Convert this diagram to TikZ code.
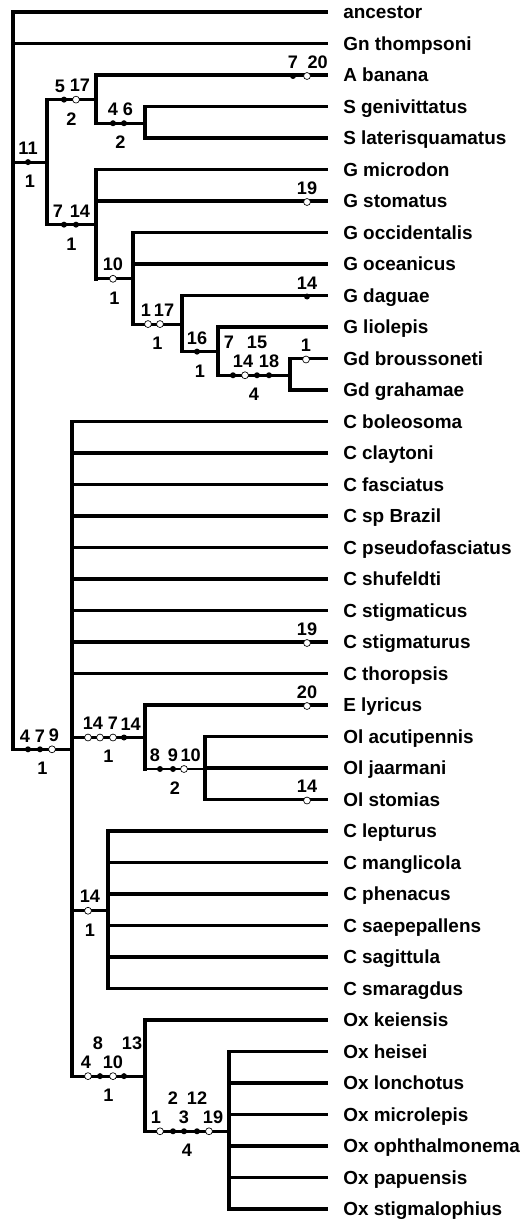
\documentclass[tikz,border=0pt]{standalone}
\usepackage{fontspec}
\setmainfont{Liberation Sans}
\usetikzlibrary{positioning}

\begin{document}
\begin{tikzpicture}[
    x=0.75pt, y=-23.625pt,
    taxon/.style={
        anchor=west,
        inner xsep=11.25pt,
        inner ysep=0pt,
        text height=10.2pt,
        text depth=0pt,
        yshift=0.75pt,
        font=\bfseries\fontsize{14.2}{17}\selectfont
    },
    leaf/.style={line width=2.9pt},
    leafthin/.style={line width=2.3pt},
    stem/.style={line width=2.2pt},
    vline/.style={line width=2.6pt, line cap=rect},
    syn/.style={circle, fill=black, inner sep=0pt, minimum size=4.5pt},
    hom/.style={circle, draw=black, fill=white, line width=0.5pt, inner sep=0pt, minimum size=5.2pt},
    num/.style={font=\bfseries\fontsize{13.6}{16}\selectfont, inner sep=0pt},
    steps/.style={num, below=8.6pt},
    hi/.style={yshift=14.3pt},
    every label/.style={num},
    label distance=2.8pt
]

\useasboundingbox (0,-0.4127) rectangle (528,38.349);

\node[taxon] (anc) at (328,0) {ancestor};
\node[taxon] (gnt) at (328,1) {Gn thompsoni};
\node[taxon] (aban) at (328,2) {A banana};
\node[taxon] (sgen) at (328,3) {S genivittatus};
\node[taxon] (slat) at (328,4) {S laterisquamatus};
\node[taxon] (gmic) at (328,5) {G microdon};
\node[taxon] (gsto) at (328,6) {G stomatus};
\node[taxon] (gocc) at (328,7) {G occidentalis};
\node[taxon] (goce) at (328,8) {G oceanicus};
\node[taxon] (gdag) at (328,9) {G daguae};
\node[taxon] (glio) at (328,10) {G liolepis};
\node[taxon] (gdbr) at (328,11) {Gd broussoneti};
\node[taxon] (gdgr) at (328,12) {Gd grahamae};
\node[taxon] (cbol) at (328,13) {C boleosoma};
\node[taxon] (ccla) at (328,14) {C claytoni};
\node[taxon] (cfas) at (328,15) {C fasciatus};
\node[taxon] (cspb) at (328,16) {C sp Brazil};
\node[taxon] (cpse) at (328,17) {C pseudofasciatus};
\node[taxon] (cshu) at (328,18) {C shufeldti};
\node[taxon] (csti) at (328,19) {C stigmaticus};
\node[taxon] (cstu) at (328,20) {C stigmaturus};
\node[taxon] (ctho) at (328,21) {C thoropsis};
\node[taxon] (elyr) at (328,22) {E lyricus};
\node[taxon] (olac) at (328,23) {Ol acutipennis};
\node[taxon] (olja) at (328,24) {Ol jaarmani};
\node[taxon] (olst) at (328,25) {Ol stomias};
\node[taxon] (clep) at (328,26) {C lepturus};
\node[taxon] (cman) at (328,27) {C manglicola};
\node[taxon] (cphe) at (328,28) {C phenacus};
\node[taxon] (csae) at (328,29) {C saepepallens};
\node[taxon] (csag) at (328,30) {C sagittula};
\node[taxon] (csma) at (328,31) {C smaragdus};
\node[taxon] (oxke) at (328,32) {Ox keiensis};
\node[taxon] (oxhe) at (328,33) {Ox heisei};
\node[taxon] (oxlo) at (328,34) {Ox lonchotus};
\node[taxon] (oxmi) at (328,35) {Ox microlepis};
\node[taxon] (oxop) at (328,36) {Ox ophthalmonema};
\node[taxon] (oxpa) at (328,37) {Ox papuensis};
\node[taxon] (oxst) at (328,38) {Ox stigmalophius};

\coordinate (root) at (13,11.69);
\coordinate (gobA) at (47,4.734);
\coordinate (abS) at (96,2.75);
\coordinate (sicy) at (145,3.5);
\coordinate (gobi) at (96,6.719);
\coordinate (gob10) at (133,8.438);
\coordinate (gob17) at (182,9.875);
\coordinate (gob16) at (218,10.75);
\coordinate (gobd) at (290,11.5);
\coordinate (ctena) at (72,23.375);
\coordinate (eleo) at (145,23);
\coordinate (olig) at (205,24);
\coordinate (ctlep) at (108,28.5);
\coordinate (oxyu) at (145,33.75);
\coordinate (oxcore) at (229,35.5);

\draw[vline] (root |- anc) -- (root |- ctena);
\draw[vline] (gobA |- abS) -- (gobA |- gobi);
\draw[vline] (abS |- aban) -- (abS |- sicy);
\draw[vline] (sicy |- sgen) -- (sicy |- slat);
\draw[vline] (gobi |- gmic) -- (gobi |- gob10);
\draw[vline] (gob10 |- gocc) -- (gob10 |- gob17);
\draw[vline] (gob17 |- gdag) -- (gob17 |- gob16);
\draw[vline] (gob16 |- glio) -- (gob16 |- gobd);
\draw[vline] (gobd |- gdbr) -- (gobd |- gdgr);
\draw[vline] (ctena |- cbol) -- (ctena |- oxyu);
\draw[vline] (eleo |- elyr) -- (eleo |- olig);
\draw[vline] (olig |- olac) -- (olig |- olst);
\draw[vline] (ctlep |- clep) -- (ctlep |- csma);
\draw[vline] (oxyu |- oxke) -- (oxyu |- oxcore);
\draw[vline] (oxcore |- oxhe) -- (oxcore |- oxst);

\draw[stem] (root |- gobA) -- node[steps] (gobAn) {1} (gobA);
\draw[stem] (gobA |- abS) -- node[steps] (abSn) {2} (abS);
\draw[stem] (abS |- sicy) -- node[steps] (sicyn) {2} (sicy);
\draw[stem] (gobA |- gobi) -- node[steps] (gobin) {1} (gobi);
\draw[stem] (gobi |- gob10) -- node[steps] (gob10n) {1} (gob10);
\draw[stem] (gob10 |- gob17) -- node[steps] (gob17n) {1} (gob17);
\draw[stem] (gob17 |- gob16) -- node[steps] (gob16n) {1} (gob16);
\draw[stem] (gob16 |- gobd) -- node[steps] (gobdn) {4} (gobd);
\draw[stem] (root |- ctena) -- node[steps] (ctenan) {1} (ctena);
\draw[stem] (ctena |- eleo) -- node[steps] (eleon) {1} (eleo);
\draw[stem] (eleo |- olig) -- node[steps] (olign) {2} (olig);
\draw[stem] (ctena |- ctlep) -- node[steps] (ctlepn) {1} (ctlep);
\draw[stem] (ctena |- oxyu) -- node[steps] (oxyun) {1} (oxyu);
\draw[stem] (oxyu |- oxcore) -- node[steps] (oxcoren) {4} (oxcore);

\draw[leaf] (root |- anc) -- (anc.west);
\draw[leafthin] (root |- gnt) -- (gnt.west);
\draw[leaf] (abS |- aban) -- (aban.west);
\draw[leaf] (sicy |- sgen) -- (sgen.west);
\draw[leaf] (sicy |- slat) -- (slat.west);
\draw[leaf] (gobi |- gmic) -- (gmic.west);
\draw[leaf] (gobi |- gsto) -- (gsto.west);
\draw[leaf] (gob10 |- gocc) -- (gocc.west);
\draw[leaf] (gob10 |- goce) -- (goce.west);
\draw[leafthin] (gob17 |- gdag) -- (gdag.west);
\draw[leafthin] (gob16 |- glio) -- (glio.west);
\draw[leafthin] (gobd |- gdbr) -- (gdbr.west);
\draw[leaf] (gobd |- gdgr) -- (gdgr.west);
\draw[leaf] (ctena |- cbol) -- (cbol.west);
\draw[leaf] (ctena |- ccla) -- (ccla.west);
\draw[leafthin] (ctena |- cfas) -- (cfas.west);
\draw[leaf] (ctena |- cspb) -- (cspb.west);
\draw[leaf] (ctena |- cpse) -- (cpse.west);
\draw[leaf] (ctena |- cshu) -- (cshu.west);
\draw[leafthin] (ctena |- csti) -- (csti.west);
\draw[leafthin] (ctena |- cstu) -- (cstu.west);
\draw[leafthin] (ctena |- ctho) -- (ctho.west);
\draw[leaf] (eleo |- elyr) -- (elyr.west);
\draw[leaf] (olig |- olac) -- (olac.west);
\draw[leaf] (olig |- olja) -- (olja.west);
\draw[leaf] (olig |- olst) -- (olst.west);
\draw[leaf] (ctlep |- clep) -- (clep.west);
\draw[leaf] (ctlep |- cman) -- (cman.west);
\draw[leaf] (ctlep |- cphe) -- (cphe.west);
\draw[leafthin] (ctlep |- csae) -- (csae.west);
\draw[leafthin] (ctlep |- csag) -- (csag.west);
\draw[leafthin] (ctlep |- csma) -- (csma.west);
\draw[leaf] (oxyu |- oxke) -- (oxke.west);
\draw[leaf] (oxcore |- oxhe) -- (oxhe.west);
\draw[leaf] (oxcore |- oxlo) -- (oxlo.west);
\draw[leaf] (oxcore |- oxmi) -- (oxmi.west);
\draw[leaf] (oxcore |- oxop) -- (oxop.west);
\draw[leaf] (oxcore |- oxpa) -- (oxpa.west);
\draw[leaf] (oxcore |- oxst) -- (oxst.west);

\node[syn, label=above:11] (gobA11) at (28,4.734) {};
\node[syn, label={[xshift=-3pt]above:5}] (abS5) at (64,2.75) {};
\node[hom, label={[xshift=3pt]above:17}] (abS17) at (76,2.75) {};
\node[syn, label=above:4] (sicy4) at (113,3.5) {};
\node[syn, label={[xshift=3pt]above:6}] (sicy6) at (124,3.5) {};
\node[syn, label=above:7] (aban7) at (293,2) {};
\node[hom, label={[xshift=8pt]above:20}] (aban20) at (307,2) {};
\node[syn, label={[xshift=-4.5pt]above:7}] (gobi7) at (64,6.719) {};
\node[syn, label={[xshift=3pt]above:14}] (gobi14) at (76,6.719) {};
\node[hom, label=above:19] (gsto19) at (307,6) {};
\node[hom, label=above:10] (gob10m) at (113,8.438) {};
\node[hom, label={[xshift=-1.5pt]above:1}] (gob17a) at (148,9.875) {};
\node[hom, label={[xshift=3pt]above:17}] (gob17b) at (160,9.875) {};
\node[syn, label=above:14] (gdag14) at (307,9) {};
\node[syn, label=above:16] (gob16m) at (197,10.75) {};
\node[syn, label={[hi, xshift=-3pt]above:7}] (gobd7) at (233,11.5) {};
\node[hom, label={[xshift=-1.5pt]above:14}] (gobd14) at (245,11.5) {};
\node[syn, label={[hi]above:15}] (gobd15) at (257,11.5) {};
\node[syn, label=above:18] (gobd18) at (269,11.5) {};
\node[hom, label=above:1] (gdbr1) at (306,11) {};
\node[syn, label={[xshift=-2.25pt]above:4}] (ctena4) at (28,23.375) {};
\node[syn, label=above:7] (ctena7) at (40,23.375) {};
\node[hom, label={[xshift=1.5pt]above:9}] (ctena9) at (52,23.375) {};
\node[hom, label=above:19] (cstu19) at (307,20) {};
\node[hom, label=above:1] (eleo1) at (88,23) {};
\node[hom, label={[xshift=-1.5pt]above:4}] (eleo4) at (100,23) {};
\node[hom, label=above:7] (eleo7) at (113,23) {};
\node[syn, label={[xshift=5pt]above:14}] (eleo14) at (124,23) {};
\node[hom, label=above:20] (elyr20) at (307,22) {};
\node[syn, label={[xshift=-3.75pt]above:8}] (olig8) at (160,24) {};
\node[syn, label=above:9] (olig9) at (173,24) {};
\node[hom, label={[xshift=5pt]above:10}] (olig10) at (184,24) {};
\node[hom, label=above:14] (olst14) at (307,25) {};
\node[hom, label={[xshift=1.5pt]above:14}] (ctlep14) at (88,28.5) {};
\node[hom, label={[xshift=-1.5pt]above:4}] (oxyu4) at (88,33.75) {};
\node[syn, label={[hi, xshift=-1.5pt]above:8}] (oxyu8) at (100,33.75) {};
\node[hom, label=above:10] (oxyu10) at (113,33.75) {};
\node[syn, label={[hi, xshift=6pt]above:13}] (oxyu13) at (124,33.75) {};
\node[hom, label={[xshift=-3pt]above:1}] (oxcore1) at (160,35.5) {};
\node[syn, label={[hi]above:2}] (oxcore2) at (173,35.5) {};
\node[syn, label=above:3] (oxcore3) at (184,35.5) {};
\node[syn, label={[hi]above:12}] (oxcore12) at (197,35.5) {};
\node[hom, label={[xshift=3pt]above:19}] (oxcore19) at (209,35.5) {};

\end{tikzpicture}
\end{document}
